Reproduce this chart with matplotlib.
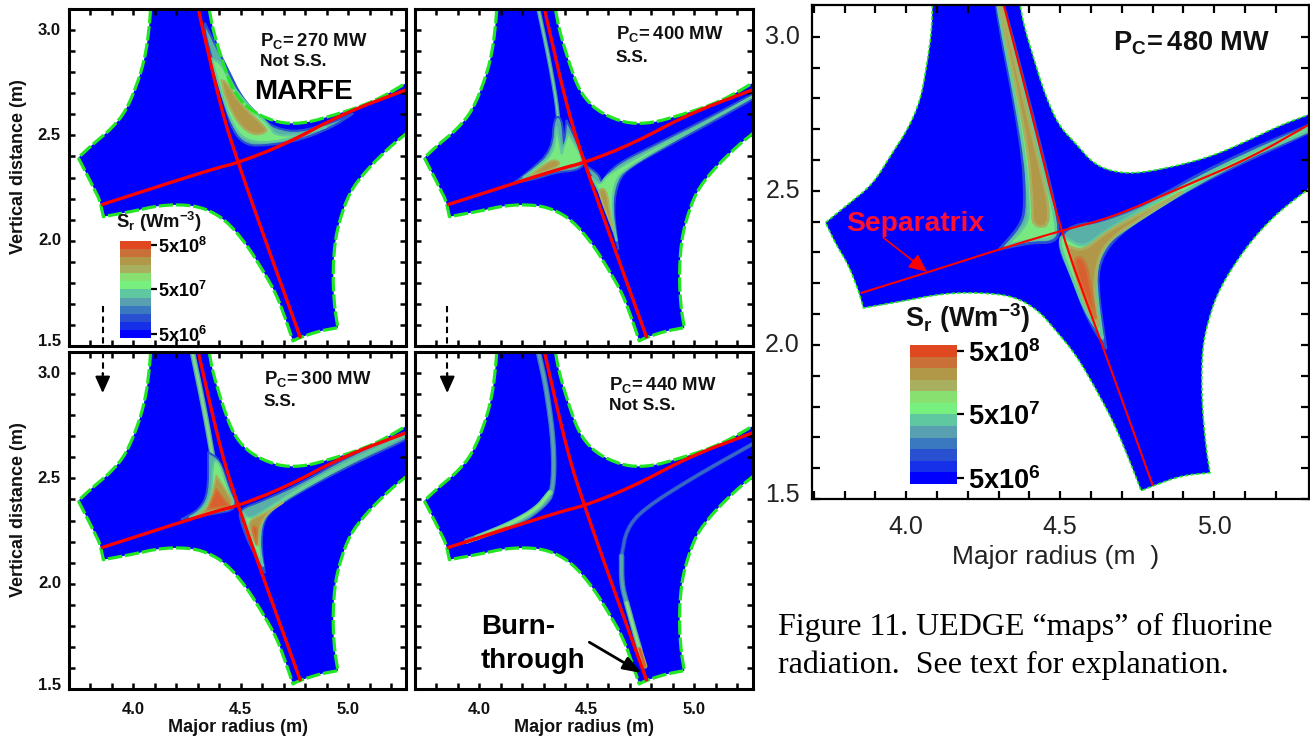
import matplotlib
matplotlib.use("Agg")
import matplotlib.pyplot as plt
import numpy as np

plt.rcParams['font.family'] = ['Liberation Sans', 'DejaVu Sans']
plt.rcParams['mathtext.fontset'] = 'custom'
plt.rcParams['mathtext.bf'] = 'Liberation Sans:bold'
plt.rcParams['mathtext.rm'] = 'Liberation Sans'
plt.rcParams['mathtext.it'] = 'Liberation Sans:italic'

W, H = 1310, 744

# ---------- geometry of the four small maps (R, Z in metres) ----------
wall_r = [4.080,4.077,4.061,4.030,3.968,3.898,3.813,3.743,3.782,3.821,3.844,3.860,3.999,4.123,4.247,4.340,4.433,4.526,4.604,4.666,4.712,4.743,
          4.774,4.867,4.953,4.937,4.929,4.937,4.960,5.007,5.084,5.193,5.280,5.280,5.162,5.053,4.930,4.805,4.697,4.604,4.526,4.464,4.418,4.371,4.353]
wall_z = [3.100,3.048,2.905,2.778,2.619,2.532,2.460,2.394,2.317,2.238,2.190,2.114,2.140,2.168,2.171,2.151,2.095,1.984,1.857,1.746,1.619,1.524,
          1.540,1.571,1.587,1.683,1.825,1.984,2.095,2.230,2.333,2.444,2.516,2.754,2.683,2.635,2.595,2.559,2.556,2.587,2.635,2.714,2.841,3.000,3.100]
wall_corners = [7, 11, 21, 24, 32, 33]
sep_a_r = [4.302,4.410,4.488,4.604,4.779]
sep_a_z = [3.100,2.619,2.370,2.032,1.537]
sep_b_r = [3.849,4.371,4.488,4.712,4.976,5.280]
sep_b_z = [2.170,2.341,2.370,2.460,2.603,2.720]

# ---------- geometry of the large map ----------
big_wall_r = [4.085,4.083,4.068,4.046,4.006,3.949,3.892,3.812,3.738,3.772,3.812,3.846,3.861,3.983,4.120,4.233,4.347,4.427,4.484,4.552,4.621,4.678,4.723,4.763,
              4.803,4.894,4.987,4.974,4.960,4.960,4.974,5.008,5.065,5.133,5.213,5.320,5.320,5.213,5.110,4.997,4.883,4.757,4.678,4.609,4.552,4.495,4.450,4.416,4.382,4.370]
big_wall_z = [3.103,3.022,2.913,2.793,2.701,2.614,2.522,2.457,2.397,2.326,2.261,2.174,2.120,2.141,2.167,2.170,2.159,2.114,2.049,1.967,1.848,1.739,1.630,1.527,
              1.543,1.576,1.585,1.663,1.815,1.967,2.054,2.163,2.261,2.353,2.435,2.516,2.752,2.712,2.663,2.614,2.582,2.557,2.560,2.587,2.652,2.712,2.815,2.924,3.038,3.103]
big_wall_corners = [8, 12, 23, 26, 35, 36]
big_sep_a_r = [4.317,4.416,4.501,4.621,4.801]
big_sep_a_z = [3.103,2.717,2.370,2.043,1.543]
big_sep_b_r = [3.852,4.074,4.302,4.501,4.666,4.894,5.122,5.320]
big_sep_b_z = [2.168,2.237,2.310,2.370,2.413,2.511,2.609,2.722]

# ---------- radiation contours: (R, Z) vertices, one list per contour level ----------
p1_teal = [[(4.333,3.032),(4.387,2.921),(4.449,2.794),(4.503,2.683),(4.588,2.587),(4.666,2.532),(4.774,2.516),(4.929,2.563),(5.022,2.603),
            (4.929,2.540),(4.774,2.476),(4.619,2.452),(4.526,2.452),(4.464,2.516),(4.418,2.667),(4.371,2.841),(4.333,2.984)]]
p1_green = [[(4.364,2.865),(4.410,2.841),(4.464,2.730),(4.542,2.635),(4.635,2.548),(4.658,2.500),(4.774,2.500),(4.898,2.540),
             (4.681,2.468),(4.534,2.468),(4.464,2.540),(4.410,2.698)]]
p1_tan = [[(4.410,2.762),(4.433,2.754),(4.495,2.651),(4.604,2.548),(4.627,2.516),(4.557,2.500),(4.488,2.556),(4.433,2.667)]]
p1_hot = []

p2_teal = [[(4.157,2.273),(4.235,2.333),(4.336,2.429),(4.347,2.587),(4.382,2.587),(4.393,2.460),(4.405,2.571),(4.436,2.508),(4.483,2.397),(4.491,2.365),
            (4.452,2.333),(4.359,2.325),(4.266,2.294)],
           [(4.495,2.357),(4.553,2.317),(4.568,2.278),(4.607,2.333),(4.669,2.381),(4.840,2.468),(5.072,2.587),(5.340,2.735),(5.340,2.710),(5.072,2.556),
            (4.855,2.437),(4.700,2.349),(4.646,2.286),(4.622,2.159),(4.646,1.960),(4.591,2.159),(4.529,2.286)]]
p2_green = [[(4.204,2.302),(4.266,2.349),(4.343,2.413),(4.359,2.540),(4.382,2.413),(4.413,2.508),(4.452,2.444),(4.483,2.381),(4.436,2.349),(4.343,2.341)],
            [(4.522,2.302),(4.561,2.262),(4.591,2.310),(4.669,2.357),(4.808,2.437),(5.072,2.571),(5.340,2.725),(4.824,2.429),(4.684,2.341),(4.630,2.286),
             (4.615,2.159),(4.638,2.000),(4.584,2.175)]]
p2_tan = [[(4.235,2.310),(4.328,2.381),(4.367,2.381),(4.374,2.357),(4.297,2.325)],
          [(4.553,2.246),(4.591,2.246),(4.607,2.127),(4.622,2.048),(4.568,2.190)]]
p2_hot = []
p2_streak_r = [4.274,4.328,4.367,4.367]
p2_streak_z = [3.100,2.841,2.603,2.476]

p3_teal = [[(4.224,2.306),(4.309,2.354),(4.348,2.433),(4.348,2.624),(4.402,2.592),(4.449,2.449),(4.488,2.354),(4.371,2.330),(4.255,2.314)],
           [(4.495,2.354),(4.604,2.394),(4.774,2.473),(5.007,2.608),(5.340,2.755),(5.340,2.715),(5.007,2.560),(4.774,2.433),(4.650,2.354),(4.604,2.290),
            (4.596,2.179),(4.612,2.052),(4.542,2.179),(4.495,2.306)]]
p3_green = [[(4.263,2.314),(4.325,2.354),(4.364,2.425),(4.371,2.592),(4.402,2.576),(4.441,2.449),(4.480,2.362),(4.371,2.338)],
            [(4.511,2.338),(4.542,2.306),(4.619,2.354),(4.774,2.457),(5.007,2.584),(5.340,2.740),(5.007,2.572),(4.774,2.441),(4.642,2.354),(4.596,2.290),
             (4.588,2.179),(4.604,2.084),(4.557,2.179)]]
p3_tan = [[(4.294,2.322),(4.356,2.370),(4.387,2.513),(4.426,2.449),(4.472,2.370),(4.371,2.346)],
          [(4.534,2.298),(4.604,2.330),(4.697,2.386),(4.627,2.338),(4.588,2.275),(4.580,2.179),(4.550,2.227)]]
p3_hot = [[(4.348,2.354),(4.387,2.449),(4.433,2.386),(4.449,2.370)],
          [(4.550,2.275),(4.580,2.267),(4.573,2.187)]]
p3_streak_r = [4.275,4.333,4.371]
p3_streak_z = [3.100,2.814,2.592]

p4_upper_r = [4.274,4.312,4.347,4.343,4.297,4.188,3.940]
p4_upper_z = [3.100,2.925,2.656,2.433,2.370,2.290,2.203]
p4_upper_green_r = [4.328,4.266,4.142,3.987]
p4_upper_green_z = [2.433,2.354,2.283,2.219]
p4_upper_tan_r = [4.126,3.940]
p4_upper_tan_z = [2.267,2.198]
p4_lo_blue_r = [5.270,4.995,4.762,4.684,4.661]
p4_lo_blue_z = [2.663,2.505,2.354,2.259,2.132]
p4_lo_teal_r = [4.661,4.661,4.684]
p4_lo_teal_z = [2.132,2.000,1.910]
p4_lo_green_r = [4.684,4.725,4.745]
p4_lo_green_z = [1.910,1.760,1.690]
p4_lo_tan_r = [4.745,4.770]
p4_lo_tan_z = [1.690,1.608]

big_teal = [[(4.278,3.160),(4.304,3.160),(4.427,2.685),(4.501,2.380),(4.484,2.332),(4.404,2.332),(4.302,2.310),(4.370,2.386),(4.387,2.446),(4.376,2.652)],
            [(4.507,2.364),(4.552,2.391),(4.621,2.397),(4.780,2.457),(5.008,2.587),(5.380,2.745),(5.380,2.720),(5.008,2.554),(4.780,2.424),(4.666,2.337),
             (4.621,2.250),(4.627,2.141),(4.649,1.989),(4.587,2.087),(4.541,2.217),(4.495,2.315)]]
big_green = [[(4.284,3.160),(4.298,3.160),(4.421,2.663),(4.494,2.380),(4.473,2.342),(4.404,2.342),(4.325,2.321),(4.393,2.391),(4.399,2.446),(4.382,2.652)],
             [(4.501,2.353),(4.518,2.348),(4.575,2.315),(4.632,2.359),(4.700,2.402),(5.008,2.576),(5.380,2.740),(5.380,2.725),(5.008,2.563),(4.700,2.370),
              (4.649,2.326),(4.615,2.250),(4.621,2.141),(4.638,2.022),(4.581,2.109),(4.535,2.228),(4.501,2.315)]]
big_tan = [[(4.289,3.160),(4.296,3.160),(4.416,2.652),(4.478,2.391),(4.410,2.380),(4.410,2.467),(4.393,2.663)],
           [(4.524,2.321),(4.575,2.304),(4.655,2.370),(4.757,2.424),(4.894,2.495),(4.757,2.408),(4.666,2.348),(4.621,2.283),(4.609,2.163),(4.626,2.060),(4.575,2.141)]]
big_hot = [[(4.541,2.283),(4.581,2.283),(4.604,2.163),(4.615,2.087),(4.570,2.185)]]

# ---------- colour scale ----------
band_edges = [4.0e6,6.09e6,9.27e6,1.41e7,2.15e7,3.27e7,4.98e7,7.58e7,1.15e8,1.76e8,2.67e8,4.07e8,6.2e8]
band_colors = ['#0000ff','#1530e8','#2850d0','#3a78c0','#58a0b0','#60c8a0','#78f080','#88e070','#a8b060','#b09848','#c87038','#e04820']
cbar_ticks = [5e6,5e7,5e8]
cbar_labels = [r'$\mathbf{5x10^6}$', r'$\mathbf{5x10^7}$', r'$\mathbf{5x10^8}$']

r_ticks = [3.7,3.8,3.9,4.0,4.1,4.2,4.3,4.4,4.5,4.6,4.7,4.8,4.9,5.0,5.1,5.2]
z_ticks = [1.5,1.6,1.7,1.8,1.9,2.0,2.1,2.2,2.3,2.4,2.5,2.6,2.7,2.8,2.9,3.0]
r_major = [4.0,4.5,5.0]
z_major = [1.5,2.0,2.5,3.0]

fig = plt.figure(figsize=(W/100, H/100), dpi=100, facecolor='white')

def box(l, t, r, b):
    return [l/W, 1-b/H, (r-l)/W, (b-t)/H]

def ftext(x, y, s, **kw):
    kw.setdefault('va', 'center')
    fig.text(x/W, 1-y/H, s, **kw)

# corner-rounding of drawn outlines (sharp tips stay in place)
def rounded(pts, closed=False, iters=2, sharp_deg=60):
    p = np.asarray(pts, float)
    for _ in range(iters):
        n = len(p)
        out = []
        idx = range(n) if closed else range(n - 1)
        if not closed:
            out.append(p[0])
        for i in idx:
            a, b = p[i], p[(i + 1) % n]
            if closed:
                u, v = p[i - 1] - a, b - a
                cosang = np.dot(u, v) / (np.linalg.norm(u) * np.linalg.norm(v) + 1e-12)
                if np.degrees(np.arccos(np.clip(cosang, -1, 1))) < sharp_deg:
                    out.append(a)
            out.append(0.75 * a + 0.25 * b)
            out.append(0.25 * a + 0.75 * b)
        if not closed:
            out.append(p[-1])
        p = np.array(out)
    return p

def rounded_wall(r, z, corners):
    pts = list(zip(r, z))
    cuts = [0] + corners + [len(pts) - 1]
    parts = []
    for i, j in zip(cuts[:-1], cuts[1:]):
        parts.append(rounded(pts[i:j + 1]))
    return np.vstack(parts)

def panel(rect, wall, corners, sep_a, sep_b, xlim, ylim, spine_lw, tick_w, tick_l, red_lw, green_lw, dash):
    ax = fig.add_axes(box(*rect))
    ax.set_xlim(*xlim); ax.set_ylim(*ylim)
    w = rounded_wall(wall[0], wall[1], corners)
    ax.fill(w[:, 0], w[:, 1], fc='#0000ff', ec='none', zorder=1)
    ax.plot(w[:, 0], w[:, 1], color='#22e622', lw=green_lw, ls=(0, dash), dash_capstyle='butt', zorder=4)
    for s in ax.spines.values():
        s.set_linewidth(spine_lw); s.set_zorder(8)
    ax.set_xticks(r_ticks)
    ax.set_yticks(z_ticks)
    ax.tick_params(which='major', direction='in', top=True, right=True, width=tick_w, length=tick_l, labelleft=False, labelbottom=False, zorder=9)
    ax._sep = (sep_a, sep_b, red_lw)
    return ax

def contours(ax, teal, green, tan, hot, blur):
    for polys, fc, ec in ((teal, '#58b0a8', '#2850d0'), (green, '#78e880', '#60c8a0'), (tan, '#b09848', '#a8b060'), (hot, '#d86030', '#c87838')):
        for poly in polys:
            q = rounded(poly, closed=True)
            ax.fill(q[:, 0], q[:, 1], fc=fc, ec=ec, lw=blur, joinstyle='round', zorder=2)

def streak(ax, r, z, outer, inner, w1, w2):
    q = rounded(list(zip(r, z)))
    ax.plot(q[:, 0], q[:, 1], color=outer, lw=w1, solid_capstyle='round', zorder=2)
    if inner:
        ax.plot(q[:, 0], q[:, 1], color=inner, lw=w2, solid_capstyle='round', zorder=2)

def finish(ax):
    (a, b, lw) = ax._sep
    for line in (a, b):
        q = rounded(list(zip(line[0], line[1])))
        ax.plot(q[:, 0], q[:, 1], color='#ff0000', lw=lw, zorder=5, solid_capstyle='butt')

def colorbar(rect, size, tick_l, pad):
    c = fig.add_axes(box(*rect))
    c.set_yscale('log')
    c.pcolormesh([0, 1], band_edges, [[i] for i in range(len(band_colors))],
                 cmap=matplotlib.colors.ListedColormap(band_colors), vmin=-0.5, vmax=len(band_colors)-0.5)
    c.set_ylim(band_edges[0], band_edges[-1])
    c.set_xticks([])
    for s in c.spines.values():
        s.set_visible(False)
    c.yaxis.tick_right()
    c.set_yticks(cbar_ticks)
    c.set_yticklabels(cbar_labels, fontsize=size)
    c.minorticks_off()
    c.tick_params(axis='y', which='major', direction='out', length=tick_l, width=1.6, pad=pad)
    c.tick_params(axis='y', which='minor', length=0)

lim_x, lim_y = (3.70, 5.27), (1.5, 3.1)
small = dict(xlim=lim_x, ylim=lim_y, spine_lw=2.2, tick_w=1.8, tick_l=4.5, red_lw=2.4, green_lw=2.3, dash=(4.5, 0.9))
wall = (wall_r, wall_z); sa = (sep_a_r, sep_a_z); sb = (sep_b_r, sep_b_z)

a1 = panel((69, 9, 406, 346), wall, wall_corners, sa, sb, **small)
a2 = panel((415, 9, 752.5, 346), wall, wall_corners, sa, sb, **small)
a3 = panel((69, 352, 406, 689), wall, wall_corners, sa, sb, **small)
a4 = panel((415, 352, 752.5, 689), wall, wall_corners, sa, sb, **small)
a5 = panel((811.6, 5, 1309, 499), (big_wall_r, big_wall_z), big_wall_corners, (big_sep_a_r, big_sep_a_z), (big_sep_b_r, big_sep_b_z),
           xlim=(3.693, 5.308), ylim=(1.5, 3.103), spine_lw=1.6, tick_w=1.6, tick_l=6, red_lw=1.5, green_lw=1.2, dash=(2.2, 1.2))

contours(a1, p1_teal, p1_green, p1_tan, p1_hot, 1.6)
streak(a2, p2_streak_r, p2_streak_z, '#4a90b8', '#70d090', 3.0, 1.3)
contours(a2, p2_teal, p2_green, p2_tan, p2_hot, 1.4)
streak(a3, p3_streak_r, p3_streak_z, '#58a8a8', '#80d888', 4.0, 2.0)
contours(a3, p3_teal, p3_green, p3_tan, p3_hot, 1.4)
streak(a4, p4_upper_r, p4_upper_z, '#3a78c0', '#58a0b0', 4.0, 2.2)
streak(a4, p4_upper_green_r, p4_upper_green_z, '#60c8a0', '#88e880', 4.0, 2.0)
streak(a4, p4_upper_tan_r, p4_upper_tan_z, '#a8b060', '#c87038', 2.6, 1.2)
streak(a4, p4_lo_blue_r, p4_lo_blue_z, '#2850d0', '#3a68c8', 3.0, 1.6)
streak(a4, p4_lo_teal_r, p4_lo_teal_z, '#3a78c0', '#58a8a8', 4.0, 2.2)
streak(a4, p4_lo_green_r, p4_lo_green_z, '#58a8a8', '#88e080', 4.0, 2.2)
streak(a4, p4_lo_tan_r, p4_lo_tan_z, '#a8b060', '#d86030', 3.5, 2.0)
contours(a5, big_teal, big_green, big_tan, big_hot, 2.0)

for a in (a1, a2, a3, a4, a5):
    finish(a)

# major tick numbers of the small maps
bold = dict(fontweight='bold', fontsize=12, color='#111111')
for a, top in ((a1, 9), (a3, 352)):
    for v in z_major:
        y = top + (3.1 - v) / 1.6 * 337
        ftext(61, y - (4 if v == 1.5 else 0), f'{v:.1f}', ha='right', **bold)
for left in (69, 415):
    for v in r_major:
        x = left + (v - 3.70) / 1.57 * 337
        ftext(x, 710, f'{v:.1f}', ha='center', **bold)
    ftext(left + 169, 728, 'Major radius (m)', ha='center', fontweight='bold', fontsize=13, color='#111111')
ftext(19, 167, 'Vertical distance (m)', ha='center', rotation=90, fontweight='bold', fontsize=13, color='#111111')
ftext(19, 510, 'Vertical distance (m)', ha='center', rotation=90, fontweight='bold', fontsize=13, color='#111111')

# large-map numbers
big = dict(fontsize=18, color='#222222')
for v in z_major:
    ftext(800, 5 + (3.103 - v) / 1.603 * 494 - (4 if v == 1.5 else 0), f'{v:.1f}', ha='right', **big)
for v in r_major:
    ftext(811.6 + (v - 3.693) / 1.615 * 497.4, 527, f'{v:.1f}', ha='center', **big)
ftext(1056, 557, 'Major radius (m  )', ha='center', fontsize=19, color='#222222')

# panel annotations
pc = dict(fontsize=13.3, color='#111111', fontweight='bold')
ss = dict(fontsize=12.5, color='#111111', fontweight='bold')
ftext(260, 41, r'$\mathbf{P_C\!=270\ MW}$', **pc); ftext(260, 62, 'Not S.S.', **ss)
ftext(616, 34, r'$\mathbf{P_C\!=400\ MW}$', **pc); ftext(616, 57, 'S.S.', **ss)
ftext(264, 379, r'$\mathbf{P_C\!=300\ MW}$', **pc); ftext(264, 402, 'S.S.', **ss)
ftext(609, 385, r'$\mathbf{P_C\!=440\ MW}$', **pc); ftext(609, 406, 'Not S.S.', **ss)
ftext(1113, 43, r'$\mathbf{P_C\!=480\ MW}$', fontsize=19.5, color='#111111', fontweight='bold')
ftext(303, 92, 'MARFE', ha='center', fontsize=20, fontweight='bold', color='k')
ftext(481, 627, 'Burn-', fontsize=20, fontweight='bold', color='k')
ftext(481, 661, 'through', fontsize=20, fontweight='bold', color='k')
a4.annotate('', xy=(4.754, 1.576), xytext=(4.511, 1.722), zorder=10,
            arrowprops=dict(arrowstyle='-|>,head_length=1.1,head_width=0.4', lw=2.0, color='k', shrinkA=0, shrinkB=0))

ftext(846, 224, 'Separatrix', fontsize=20.3, fontweight='bold', color='#ff1030', zorder=10)
a5.annotate('', xy=(4.068, 2.237), xytext=(3.926, 2.348), zorder=10,
            arrowprops=dict(arrowstyle='-|>,head_length=1.1,head_width=0.5', lw=1.2, color='#ff0000', shrinkA=0, shrinkB=0))

# dashed arrows crossing panels
for a_up, a_dn, rv in ((a1, a3, 3.857), (a2, a4, 3.85)):
    a_up.plot([rv, rv], [1.69, 1.5], color='k', lw=1.5, ls=(0, (3, 2)), zorder=10)
    a_dn.plot([rv, rv], [3.1, 2.99], color='k', lw=1.5, ls=(0, (3, 2)), zorder=10)
    a_dn.annotate('', xy=(rv, 2.905), xytext=(rv, 3.0), zorder=10,
                  arrowprops=dict(arrowstyle='-|>,head_length=1.0,head_width=0.45', lw=1.5, color='k', shrinkA=0, shrinkB=0))

# colour bars
ftext(116, 222, r'$\mathbf{S_r\ (Wm^{-3})}$', fontsize=13.3, color='#111111')
colorbar((120, 241, 151, 338), 13, 4, 1)
ftext(905, 318, r'$\mathbf{S_r\ (Wm^{-3})}$', fontsize=19.5, color='#111111')
colorbar((910, 345, 956.5, 484), 19.5, 5, 3)

# caption
cap = dict(family='Liberation Serif', fontsize=23, color='k')
ftext(778, 627, 'Figure 11. UEDGE \u201cmaps\u201d of fluorine', **cap)
ftext(778, 665, 'radiation.  See text for explanation.', **cap)

fig.savefig('out.png', dpi=100)
